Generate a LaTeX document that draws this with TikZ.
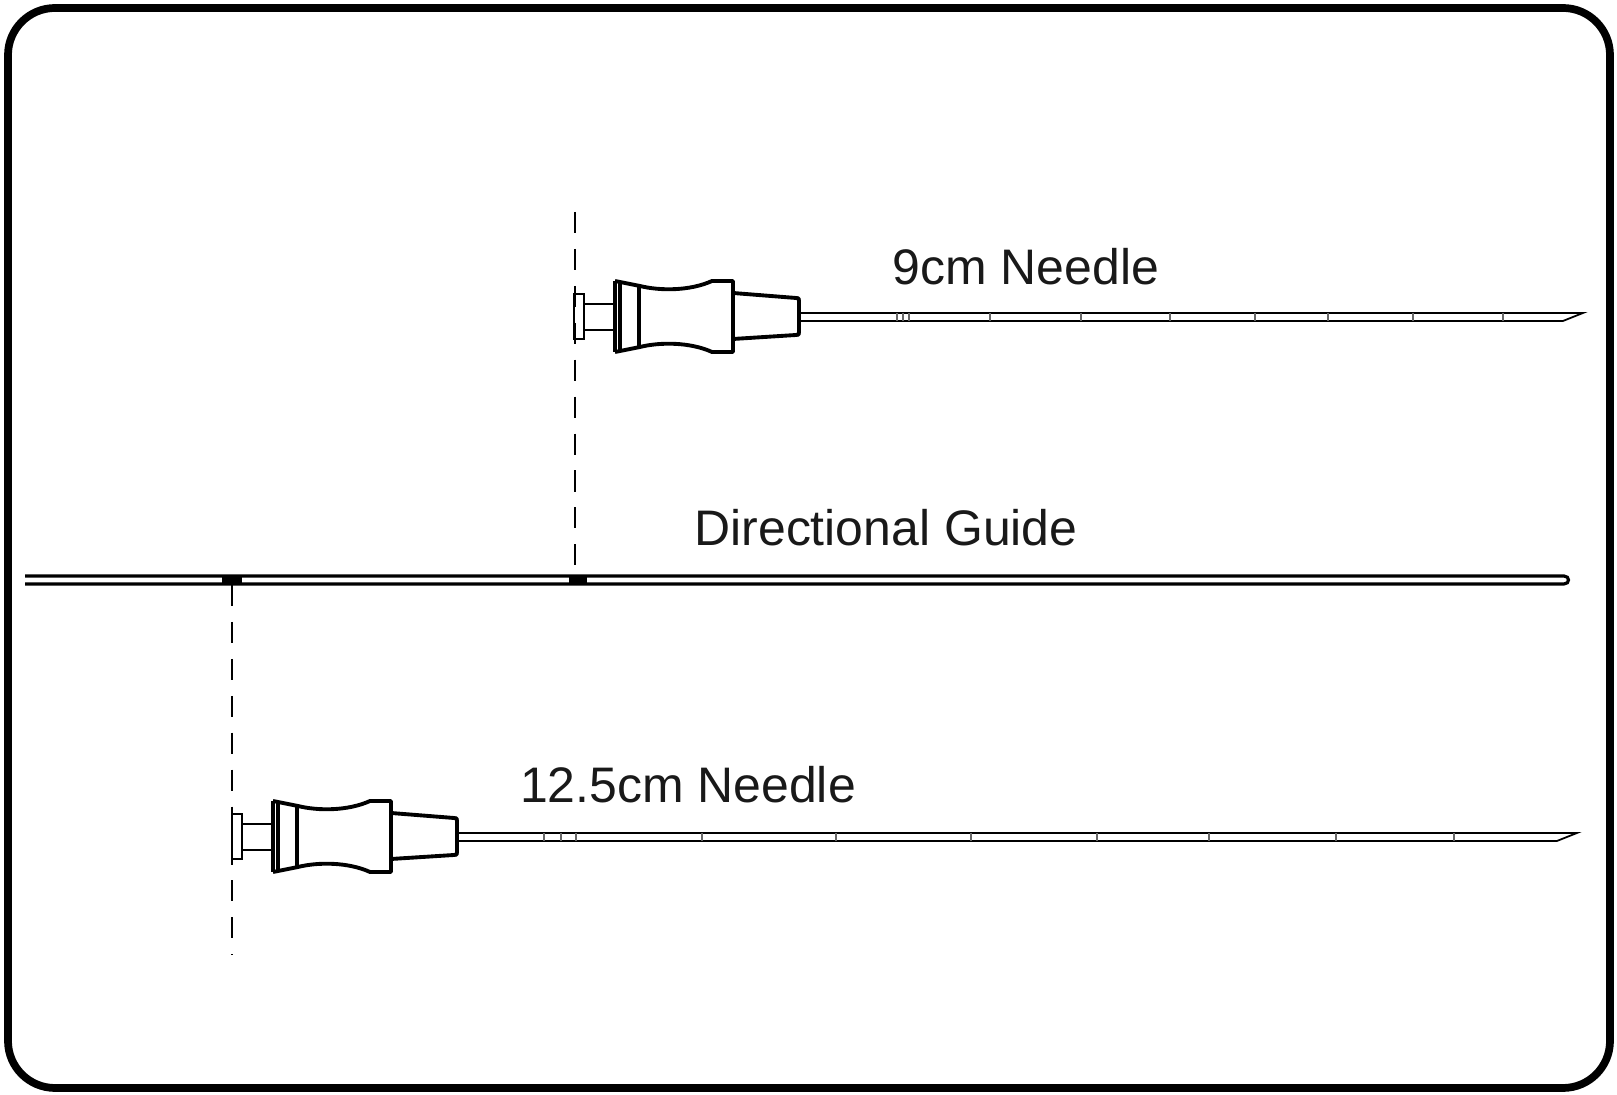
\documentclass[tikz,border=0pt]{standalone}
\usepackage{fontspec}
\setmainfont{Liberation Sans}
\begin{document}
\begin{tikzpicture}[x=0.01cm,y=-0.01cm,
  hubline/.style={line width=1.1pt,line join=round},
  thinline/.style={line width=0.5pt},
  tick/.style={line width=0.6pt,draw=gray!80!black},
  guideline/.style={dash pattern=on 6pt off 4.5pt,line width=0.6pt},
  lbl/.style={font=\fontsize{14.2pt}{16pt}\selectfont,text=black!90}]
\useasboundingbox (0,0) rectangle (1617,1095);
\draw[line width=2.2pt,rounded corners=0.47cm] (8,8) rectangle (1610,1088);
\newcommand{\needleshape}[5]{%
\begin{scope}[shift={(#1,#2)}]
 \draw[thinline,fill=white] (574,294) rectangle (584,339);
 \draw[thinline] (584,304) -- (615,304) (584,330) -- (615,330);
 \draw[hubline] (615,281) -- (615,352);
 \draw[hubline] (620,281) -- (620,352);
 \draw[hubline] (615,281) -- (640,286) .. controls (660,291) and (690,291) .. (712,281) -- (733,281) -- (733,352) -- (712,352) .. controls (690,342) and (660,342) .. (640,347) -- (615,352);
 \draw[hubline] (639,286) -- (639,347);
 \draw[hubline] (733,293) -- (796,298) .. controls (799,298) .. (799,301) -- (799,332) .. controls (799,335) .. (796,335) -- (733,339);
 \draw[thinline] (799,313) -- (#3,313) -- (#4,321) -- (799,321);
 \foreach \t in {#5} \draw[tick] (\t,313) -- (\t,321);
\end{scope}}
\needleshape{0}{0}{1583}{1563}{897,903,909,990,1081,1170,1255,1328,1413,1503}
\needleshape{-342}{520}{1919}{1899}{886,903,918,1044,1178,1313,1439,1551,1678,1796}
% directional guide
\draw[line width=0.9pt] (25,576) -- (1564,576) .. controls (1570,576) and (1570,584) .. (1564,584) -- (25,584);
\fill (222,576) rectangle (242,585);
\fill (569,576) rectangle (587,585);
\coordinate (topA) at (575,212);
\coordinate (topB) at (575,576);
\coordinate (botA) at (232,585);
\coordinate (botB) at (232,955);
\draw[guideline] (topA) -- (topB);
\draw[guideline] (botA) -- (botB);
\node[lbl] (l9) at (1026,267) {9cm Needle};
\node[lbl] (lg) at (886,528) {Directional Guide};
\node[lbl] (l12) at (688,785) {12.5cm Needle};
\end{tikzpicture}
\end{document}
